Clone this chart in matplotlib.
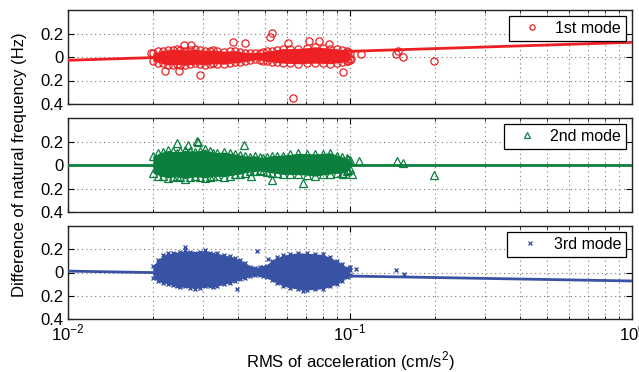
import matplotlib
matplotlib.use("Agg")
import matplotlib.pyplot as plt
from matplotlib.lines import Line2D

plt.rcParams['font.family'] = ['Liberation Sans', 'DejaVu Sans']
plt.rcParams['mathtext.fontset'] = 'custom'
plt.rcParams['mathtext.rm'] = 'Liberation Sans'

# ---------------- data ----------------
mode_labels = ["1st mode", "2nd mode", "3rd mode"]
colors = ["#ED2024", "#0B7F3E", "#3953A4"]

# outline of the dense clouds (x in cm/s^2, y in Hz)
env_x = [0.0200, 0.0218, 0.0236, 0.0250, 0.0271, 0.0294, 0.0319, 0.0337, 0.0375,
         0.0407, 0.0442, 0.0480, 0.0506, 0.0550, 0.0613, 0.0702, 0.0804, 0.0897,
         0.0973, 0.1000]
red_hi = [0.035, 0.055, 0.060, 0.060, 0.060, 0.058, 0.055, 0.052, 0.050, 0.045,
          0.030, 0.030, 0.050, 0.060, 0.070, 0.078, 0.078, 0.070, 0.050, 0.030]
red_lo = [-0.035, -0.055, -0.065, -0.065, -0.062, -0.060, -0.058, -0.058, -0.052, -0.045,
          -0.028, -0.022, -0.038, -0.045, -0.050, -0.052, -0.052, -0.048, -0.038, -0.022]
green_hi = [0.080, 0.110, 0.115, 0.115, 0.120, 0.120, 0.115, 0.105, 0.100, 0.085,
            0.070, 0.065, 0.070, 0.080, 0.090, 0.095, 0.095, 0.080, 0.060, 0.040]
green_lo = [-0.070, -0.095, -0.100, -0.105, -0.105, -0.100, -0.100, -0.095, -0.090, -0.078,
            -0.050, -0.045, -0.060, -0.070, -0.080, -0.085, -0.080, -0.070, -0.050, -0.035]
blue_hi = [0.060, 0.150, 0.170, 0.180, 0.180, 0.180, 0.170, 0.165, 0.140, 0.110,
           0.050, 0.045, 0.060, 0.130, 0.155, 0.165, 0.155, 0.100, 0.040, 0.020]
blue_lo = [-0.050, -0.090, -0.110, -0.125, -0.130, -0.130, -0.120, -0.115, -0.090, -0.060,
           -0.030, -0.025, -0.040, -0.090, -0.130, -0.150, -0.140, -0.100, -0.040, -0.020]

# further edge points of the clouds
edge_x = [0.0209, 0.0227, 0.0243, 0.0260, 0.0282, 0.0306, 0.0328, 0.0356, 0.0391, 0.0424,
          0.0461, 0.0493, 0.0528, 0.0580, 0.0656, 0.0752, 0.0850, 0.0935, 0.0987]
red_hi2 = [0.048, 0.062, 0.068, 0.055, 0.068, 0.050, 0.062, 0.045, 0.055, 0.035,
           0.038, 0.040, 0.055, 0.072, 0.065, 0.088, 0.070, 0.062, 0.040]
red_lo2 = [-0.048, -0.068, -0.058, -0.072, -0.055, -0.068, -0.052, -0.062, -0.045, -0.038,
           -0.018, -0.032, -0.042, -0.052, -0.058, -0.048, -0.058, -0.042, -0.032]
green_hi2 = [0.100, 0.125, 0.105, 0.125, 0.112, 0.135, 0.105, 0.110, 0.092, 0.075,
             0.078, 0.060, 0.080, 0.078, 0.100, 0.090, 0.105, 0.070, 0.050]
green_lo2 = [-0.090, -0.110, -0.095, -0.115, -0.095, -0.110, -0.090, -0.100, -0.080, -0.065,
             -0.055, -0.050, -0.065, -0.080, -0.075, -0.095, -0.075, -0.065, -0.045]
blue_hi2 = [0.110, 0.165, 0.160, 0.190, 0.170, 0.190, 0.160, 0.150, 0.125, 0.080,
            0.040, 0.050, 0.100, 0.150, 0.170, 0.160, 0.130, 0.070, 0.030]
blue_lo2 = [-0.075, -0.100, -0.120, -0.120, -0.140, -0.120, -0.125, -0.100, -0.075, -0.045,
            -0.025, -0.030, -0.065, -0.115, -0.145, -0.145, -0.120, -0.070, -0.030]

# isolated points
red_out_x = [0.0197, 0.0220, 0.0248, 0.0257, 0.0273, 0.0294, 0.0386, 0.0425, 0.0520, 0.0528,
             0.0603, 0.0626, 0.0716, 0.0775, 0.0843, 0.0941, 0.1010, 0.1093, 0.1450, 0.1480,
             0.1540, 0.1990]
red_out_y = [0.037, -0.117, -0.119, 0.100, 0.100, -0.153, 0.130, 0.122, 0.173, 0.207,
             0.120, -0.346, 0.136, 0.136, 0.113, -0.128, -0.014, 0.028, 0.028, 0.051,
             -0.003, -0.031]
green_out_x = [0.0244, 0.0267, 0.0287, 0.0290, 0.0422, 0.0447, 0.0530, 0.0682, 0.0944,
               0.1016, 0.1080, 0.1470, 0.1540, 0.1990]
green_out_y = [0.187, 0.168, 0.207, 0.196, 0.168, -0.094, -0.125, -0.153, -0.074,
               -0.074, 0.031, 0.034, 0.017, -0.085]
blue_out_x = [0.0259, 0.0396, 0.0469, 0.0510, 0.0680, 0.1000, 0.1050, 0.1460, 0.1550]
blue_out_y = [0.217, -0.138, 0.183, 0.112, -0.157, 0.050, 0.030, 0.021, -0.013]

# fitted lines (end points at x = 0.01 and x = 1)
fit_x = [0.01, 1.0]
red_fit = [-0.028, 0.125]
green_fit = [0.0, 0.0]
blue_fit = [0.012, -0.073]

ytick_pos = [-0.4, -0.2, 0.0, 0.2]
ytick_lab = ["0.4", "0.2", "0", "0.2"]
xtick_pos = [0.01, 0.1, 1.0]
xtick_lab = [r"$10^{-2}$", r"$10^{-1}$", r"$10^{0}$"]

# ---------------- figure ----------------
FS = 12
fig = plt.figure(figsize=(6.39, 3.72), dpi=100)
L, W = 68 / 639, (632 - 68) / 639
rects = [(L, 1 - 104 / 372, W, 94 / 372),
         (L, 1 - 212 / 372, W, 94 / 372),
         (L, 1 - 319 / 372, W, 93 / 372)]

his = [red_hi, green_hi, blue_hi]
los = [red_lo, green_lo, blue_lo]
his2 = [red_hi2, green_hi2, blue_hi2]
los2 = [red_lo2, green_lo2, blue_lo2]
outx = [red_out_x, green_out_x, blue_out_x]
outy = [red_out_y, green_out_y, blue_out_y]
fits = [red_fit, green_fit, blue_fit]
mk = [dict(marker='o', mfc='none', ms=5.2, mew=0.9),
      dict(marker='^', mfc='none', ms=6.0, mew=0.9),
      dict(marker='x', ms=3.4, mew=1.0)]
leg_mk = [dict(marker='o', mfc='none', ms=3.8, mew=0.9),
          dict(marker='^', mfc='none', ms=4.5, mew=0.9),
          dict(marker='x', ms=3.0, mew=0.9)]

for i in range(3):
    ax = fig.add_axes(rects[i])
    c = colors[i]
    ax.set_xscale('log')
    ax.fill_between(env_x, los[i], his[i], color=c, lw=0, zorder=2)
    ax.fill_between(edge_x, los2[i], his2[i], color=c, lw=0, zorder=2)
    for yy in (his[i], los[i]):
        ax.plot(env_x, yy, ls='none', color=c, mec=c, zorder=3, **mk[i])
    for yy in (his2[i], los2[i]):
        ax.plot(edge_x, yy, ls='none', color=c, mec=c, zorder=3, **mk[i])
    ax.plot(outx[i], outy[i], ls='none', color=c, mec=c, zorder=3, **mk[i])
    ax.plot(fit_x, fits[i], color=c, lw=2.0, zorder=4)

    ax.set_xlim(0.01, 1.0)
    ax.set_ylim(-0.4, 0.4)
    ax.set_yticks(ytick_pos)
    ax.set_yticklabels(ytick_lab)
    ax.set_xticks(xtick_pos)
    if i == 2:
        ax.set_xticklabels(xtick_lab)
    else:
        ax.set_xticklabels([])
    ax.tick_params(which='both', direction='in', top=True, right=True,
                   labelsize=FS, pad=3)
    ax.tick_params(which='major', length=4, width=0.8)
    ax.tick_params(which='minor', length=2, width=0.6)
    ax.grid(True, which='both', axis='x', ls=(0, (1, 3)), color='#777777', lw=0.8)
    ax.grid(True, which='major', axis='y', ls=(0, (1, 3)), color='#777777', lw=0.8)
    ax.set_axisbelow(True)
    for s in ax.spines.values():
        s.set_linewidth(1.0)
        s.set_color('#222222')

    h = Line2D([], [], ls='none', color=c, mec=c, **leg_mk[i])
    leg = ax.legend([h], [mode_labels[i]], loc='upper right', fontsize=FS - 0.5,
                    frameon=True, fancybox=False, edgecolor='black',
                    framealpha=1, handlelength=2.3, handletextpad=0.3,
                    borderpad=0.3, borderaxespad=0.38)
    leg.get_frame().set_linewidth(0.9)
    if i == 2:
        ax.set_xlabel(r"RMS of acceleration (cm/s$^2$)", fontsize=FS, labelpad=4)

fig.text(0.030, (1 - 10 / 372 + 1 - 319 / 372) / 2,
         "Difference of natural frequency (Hz)", rotation=90,
         va='center', ha='center', fontsize=FS)

fig.savefig("out.png", dpi=100)
